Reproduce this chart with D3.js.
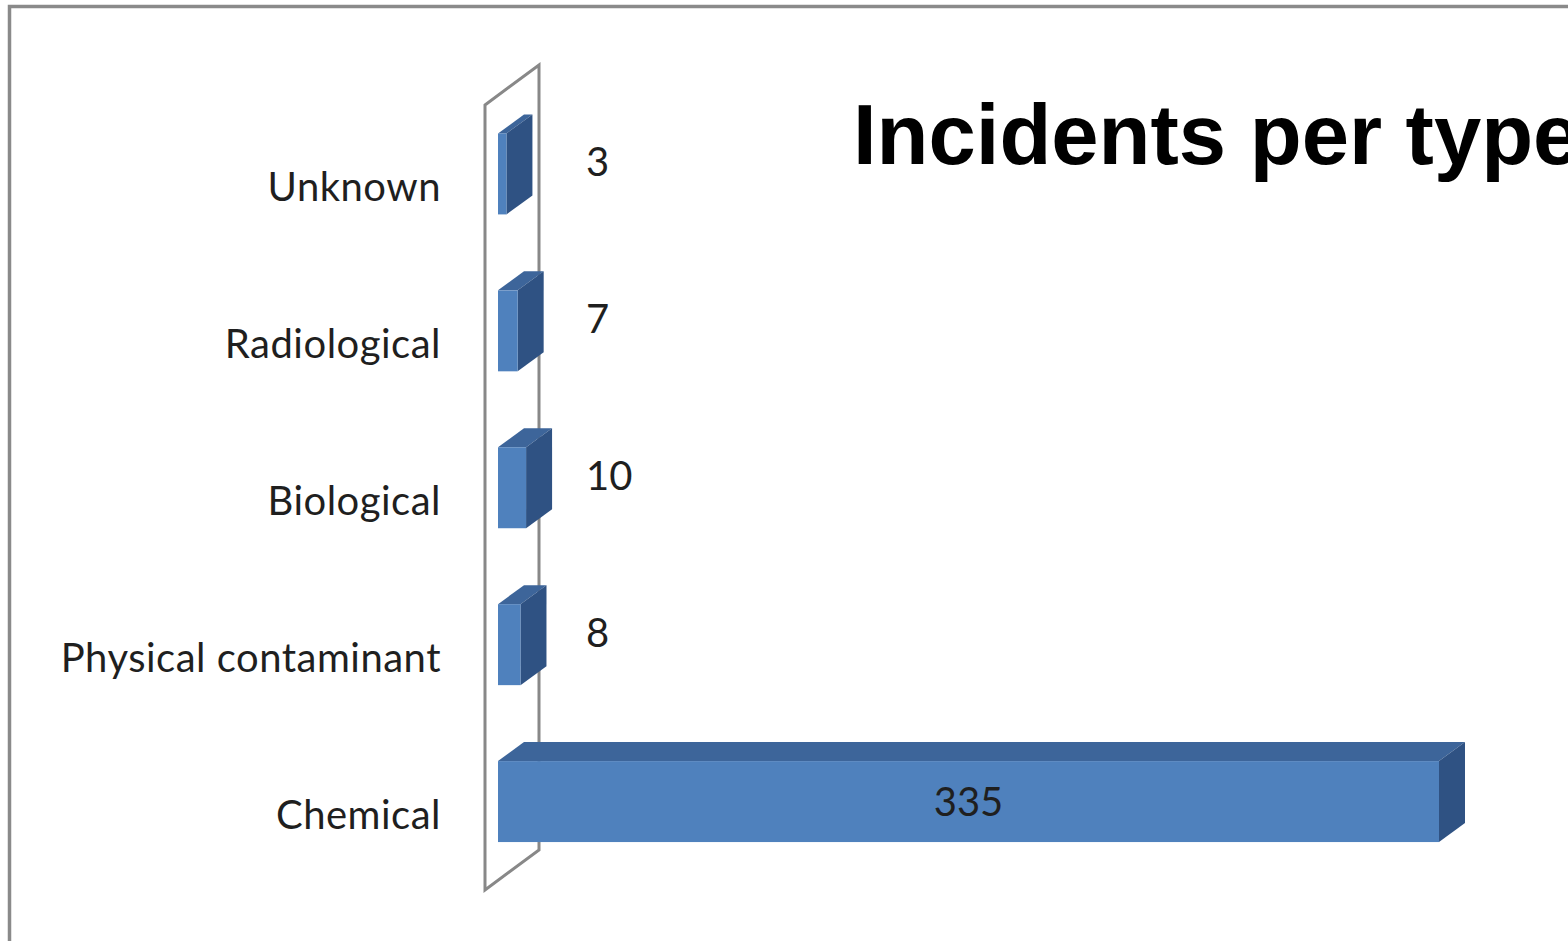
<!DOCTYPE html>
<html>
<head>
<meta charset="utf-8">
<script src="https://cdn.jsdelivr.net/npm/d3@7"></script>
<style>
  html, body { margin: 0; padding: 0; background: #ffffff; overflow: hidden; }
  svg { display: block; }
</style>
</head>
<body>
<svg id="chart" width="1568" height="941"></svg>
<script>
// ---- data ----
const categories = ["Unknown", "Radiological", "Biological", "Physical contaminant", "Chemical"];
const values = [3, 7, 10, 8, 335];
const title = "Incidents per type";

// ---- layout ----
const W = 1568, H = 941;
const svg = d3.select("#chart");

svg.append("rect").attr("width", W).attr("height", H).attr("fill", "#ffffff");

// outer frame (extends past right and bottom edges)
svg.append("rect")
  .attr("x", 9.5).attr("y", 6.5)
  .attr("width", W + 20).attr("height", H + 20)
  .attr("fill", "none").attr("stroke", "#8a8a8a").attr("stroke-width", 3.5);

const x = d3.scaleLinear().domain([0, 335]).range([498, 1439]);
const y = d3.scaleBand().domain(categories).range([57.5, 918]).padding(0.484);

const barDX = 26, barDY = -19;       // bar depth
const wallDX = 54, wallDY = -40;     // wall depth
const wallX = 485, wallTop = 105, wallBottom = 890;

// side wall
svg.append("path")
  .attr("d", `M${wallX},${wallTop} L${wallX + wallDX},${wallTop + wallDY} L${wallX + wallDX},${wallBottom + wallDY} L${wallX},${wallBottom} Z`)
  .attr("fill", "none").attr("stroke", "#888888").attr("stroke-width", 3)
  .attr("stroke-linejoin", "miter");

const rows = categories.map((c, i) => ({c, v: values[i]}));
const bars = svg.append("g").selectAll("g").data(rows).join("g");

// top face
bars.append("path")
  .attr("d", d => {
    const x0 = x(0), x1 = x(d.v), yt = y(d.c);
    return `M${x0},${yt} L${x0 + barDX},${yt + barDY} L${x1 + barDX},${yt + barDY} L${x1},${yt} Z`;
  })
  .attr("fill", "#3D659A");

// side face
bars.append("path")
  .attr("d", d => {
    const x1 = x(d.v), yt = y(d.c), yb = y(d.c) + y.bandwidth();
    return `M${x1},${yt} L${x1 + barDX},${yt + barDY} L${x1 + barDX},${yb + barDY} L${x1},${yb} Z`;
  })
  .attr("fill", "#2F5283");

// front face
bars.append("rect")
  .attr("x", x(0))
  .attr("y", d => y(d.c))
  .attr("width", d => x(d.v) - x(0))
  .attr("height", y.bandwidth())
  .attr("fill", "#4F81BD");

// category labels
svg.append("g").selectAll("text").data(categories).join("text")
  .attr("x", 441)
  .attr("y", d => y(d) + y.bandwidth() / 2 + 27)
  .attr("text-anchor", "end")
  .attr("font-family", "Lato, 'Open Sans', sans-serif")
  .attr("font-size", 40)
  .attr("letter-spacing", 0.5)
  .attr("fill", "#1f1f1f")
  .text(d => d);

// value labels
svg.append("g").selectAll("text").data(rows).join("text")
  .attr("x", d => d.v > 100 ? (x(0) + x(d.v)) / 2 : x(0) + 88)
  .attr("y", d => y(d.c) + y.bandwidth() / 2 + (d.v > 100 ? 14 : 2))
  .attr("text-anchor", d => d.v > 100 ? "middle" : "start")
  .attr("font-family", "Lato, 'Open Sans', sans-serif")
  .attr("font-size", 40)
  .attr("fill", "#1f1f1f")
  .text(d => d.v);

// title
svg.append("text")
  .attr("x", 853).attr("y", 164)
  .attr("font-family", "'Liberation Sans', Arial, sans-serif")
  .attr("font-weight", "bold")
  .attr("font-size", 85)
  .attr("fill", "#000000")
  .text(title);
</script>
</body>
</html>
